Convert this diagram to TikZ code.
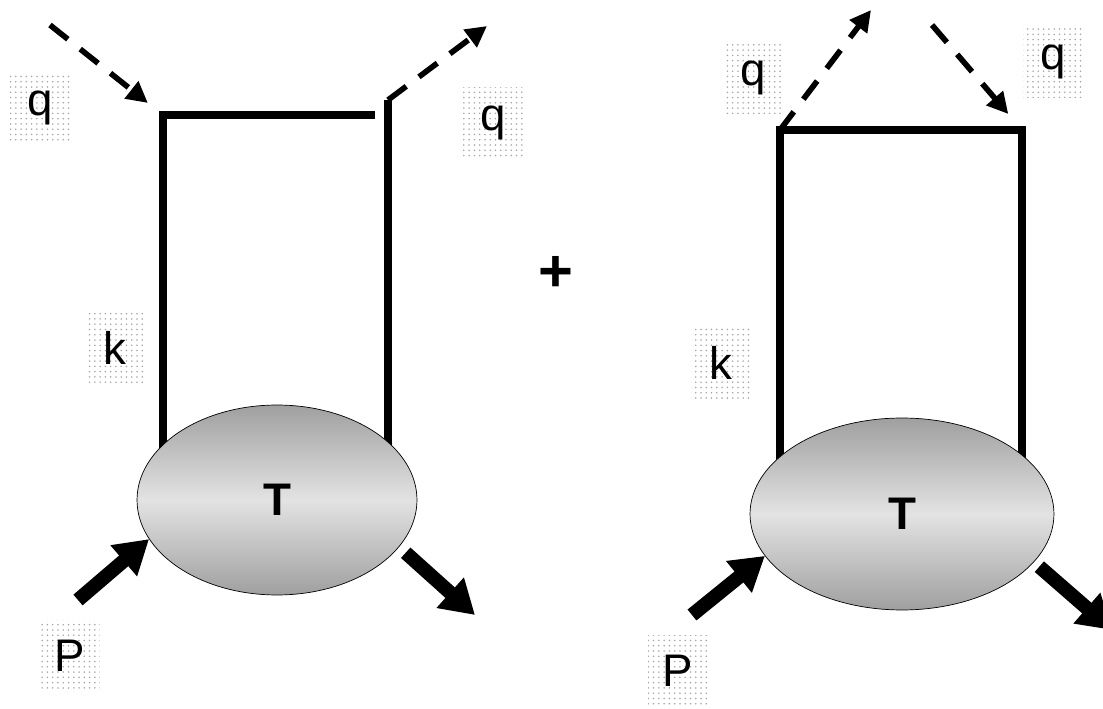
\documentclass[tikz,border=0pt]{standalone}
\usepackage{fontspec}
\setmainfont{Liberation Sans}
\usetikzlibrary{shapes.geometric,arrows.meta,patterns,backgrounds}

\begin{document}
\begin{tikzpicture}[x=0.02cm, y=-0.02cm,
    font=\fontsize{26}{28}\selectfont,
    leg/.style={line width=4pt},
    photon/.style={line width=3.2pt, dash pattern=on 13pt off 9pt,
        -{Triangle[length=12pt,width=12pt]}},
    mom/.style={line width=8pt, -{Triangle[length=19pt,width=22pt]}},
    blob/.style={ellipse, draw, thin, inner sep=0pt,
        top color=gray!75, bottom color=gray!75, middle color=gray!22,
        font=\fontsize{26}{28}\selectfont\bfseries},
    lbl/.style={pattern=dots, pattern color=gray!70, inner sep=0pt,
        minimum width=1.2cm, minimum height=1.44cm}]

    \useasboundingbox (0,0) rectangle (1103,709);

    % Left diagram
    \node[blob, minimum width=5.6cm, minimum height=3.8cm] (T1) at (277,500) {T};
    \coordinate (a1) at (163,115);
    \coordinate (b1) at (375,115);
    \coordinate (c1) at (388,100);
    \begin{scope}[on background layer]
        \draw[leg] (b1) -- (a1) -- (a1 |- T1.center);
        \draw[leg] (c1) -- (c1 |- T1.center);
    \end{scope}

    % Photons
    \coordinate (qi1) at (50,25);
    \coordinate (qo1) at (487,26);
    \draw[photon, shorten >=11pt] (qi1) -- (a1);
    \draw[photon] (c1) -- (qo1);

    % Momenta
    \coordinate (p1) at (78,600);
    \coordinate (o1) at (475,615);
    \draw[mom] (p1) -- (T1.197);
    \draw[mom, shorten <=5pt] (T1.-21) -- (o1);

    % Labels
    \node[lbl] (qa1) at (40,108) {q};
    \node[lbl] (qb1) at (493,123) {q};
    \node[lbl] (k1) at (115,348) {k};
    \node[lbl] (P1) at (70,656) {P};

    \node[font=\fontsize{34}{36}\selectfont\bfseries] (plus) at (556,274) {+};

    % Right diagram
    \node[blob, minimum width=6.08cm, minimum height=3.84cm] (T2) at (902,514) {T};
    \coordinate (a2) at (780,130);
    \coordinate (b2) at (1022,130);
    \begin{scope}[on background layer]
        \draw[leg] (a2 |- T2.center) -- (a2) -- (b2) -- (b2 |- T2.center);
    \end{scope}

    % Photons
    \coordinate (qo2) at (871,10);
    \coordinate (qi2) at (932,25);
    \draw[photon] (a2) -- (qo2);
    \draw[photon, shorten >=12pt] (qi2) -- (b2);

    % Momenta
    \coordinate (p2) at (692,615);
    \coordinate (o2) at (1112,630);
    \draw[mom] (p2) -- (T2.197);
    \draw[mom, shorten <=4pt] (T2.-20) -- (o2);

    % Labels
    \node[lbl] (qa2) at (753,78) {q};
    \node[lbl] (qb2) at (1053,62) {q};
    \node[lbl] (k2) at (721,363) {k};
    \node[lbl] (P2) at (678,671) {P};

\end{tikzpicture}
\end{document}
